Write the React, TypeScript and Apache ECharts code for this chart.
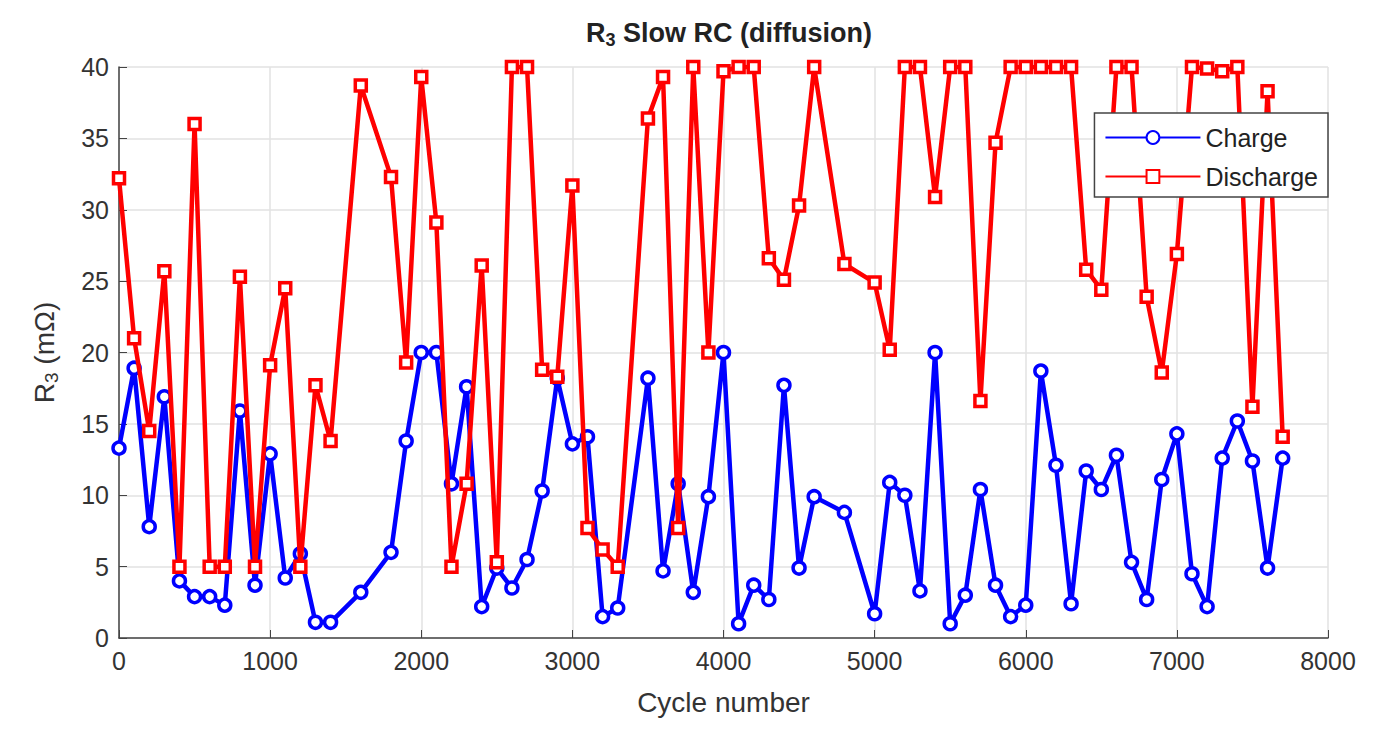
import React, { useEffect, useRef } from 'react';
import * as echarts from 'echarts';

const chargeX = [0,100,200,300,400,500,600,700,800,900,1000,1100,1200,1300,1400,1600,1800,1900,2000,2100,2200,2300,2400,2500,2600,2700,2800,2900,3000,3100,3200,3300,3500,3600,3700,3800,3900,4000,4100,4200,4300,4400,4500,4600,4800,5000,5100,5200,5300,5400,5500,5600,5700,5800,5900,6000,6100,6200,6300,6400,6500,6600,6700,6800,6900,7000,7100,7200,7300,7400,7500,7600,7700];
const chargeY = [13.3,18.9,7.8,16.9,4.0,2.9,2.9,2.3,15.9,3.7,12.9,4.2,5.9,1.1,1.1,3.2,6.0,13.8,20,20,10.8,17.6,2.2,4.9,3.5,5.5,10.3,18.2,13.6,14.1,1.5,2.1,18.2,4.7,10.8,3.2,9.9,20,1.0,3.7,2.7,17.7,4.9,9.9,8.8,1.7,10.9,10.0,3.3,20,1.0,3.0,10.4,3.7,1.5,2.3,18.7,12.1,2.4,11.7,10.4,12.8,5.3,2.7,11.1,14.3,4.5,2.2,12.6,15.2,12.4,4.9,12.6];
const dischargeY = [32.2,21,14.5,25.7,5,36,5,5,25.3,5,19.1,24.5,5,17.7,13.8,38.7,32.3,19.3,39.3,29.1,5,10.8,26.1,5.3,40,40,18.8,18.3,31.7,7.7,6.2,5,36.4,39.3,7.7,40,20,39.7,40,40,26.6,25.1,30.3,40,26.2,24.9,20.2,40,40,30.9,40,40,16.6,34.7,40,40,40,40,40,25.8,24.4,40,40,23.9,18.6,26.9,40,39.9,39.7,40,16.2,38.3,14.1];

const App = () => {
  const chartRef = useRef(null);

  useEffect(() => {
    const chart = echarts.init(chartRef.current, null, { renderer: 'svg' });
    const font = 'Liberation Sans, Arial, sans-serif';
    const axisCommon = {
      axisLine: { show: true, lineStyle: { color: '#444', width: 1.5 } },
      axisTick: { show: true, inside: true, length: 8, lineStyle: { color: '#444' } },
      axisLabel: { color: '#333', fontSize: 25, fontFamily: font, margin: 10, formatter: (v: number) => String(v) },
      splitLine: { show: true, lineStyle: { color: '#e2e2e2', width: 1.5 } },
      nameTextStyle: { color: '#333', fontSize: 28, fontFamily: font },
    };
    chart.setOption({
      animation: false,
      title: {
        text: '{b|R}{s|3}{b| Slow RC (diffusion)}',
        left: 716,
        top: 4,
        textAlign: 'center',
        textStyle: {
          rich: {
            b: { fontSize: 27, fontWeight: 'bold', color: '#222', fontFamily: font },
            s: { fontSize: 18, fontWeight: 'bold', color: '#222', fontFamily: font, verticalAlign: 'bottom', padding: [14, 0, 0, 0] },
          },
        },
      },
      grid: { left: 111, right: 37, top: 59, bottom: 101 },
      legend: {
        orient: 'vertical',
        right: 37,
        top: 105,
        backgroundColor: '#fff',
        borderColor: '#444',
        borderWidth: 1.5,
        borderRadius: 0,
        padding: [12, 10, 8, 10],
        itemGap: 14,
        itemWidth: 95,
        itemHeight: 16,
        textStyle: { fontSize: 25, color: '#222', fontFamily: font },
        data: ['Charge', 'Discharge'],
      },
      xAxis: {
        type: 'value', min: 0, max: 8000, interval: 1000,
        name: 'Cycle number', nameLocation: 'middle', nameGap: 50,
        ...axisCommon,
      },
      yAxis: {
        type: 'value', min: 0, max: 40, interval: 5,
        name: '{n|R}{s|3}{n| (mΩ)}', nameLocation: 'middle', nameGap: 58,
        ...axisCommon,
        nameTextStyle: {
          rich: {
            n: { fontSize: 28, color: '#333', fontFamily: font },
            s: { fontSize: 19, color: '#333', fontFamily: font, verticalAlign: 'bottom', padding: [14, 0, 0, 0] },
          },
        },
      },
      series: [
        {
          name: 'Charge', type: 'line',
          data: chargeX.map((x, i) => [x, chargeY[i]]),
          symbol: 'circle', symbolSize: 12,
          itemStyle: { color: '#fff', borderColor: '#0000ff', borderWidth: 3.5 },
          lineStyle: { color: '#0000ff', width: 4.5 },
          z: 2,
        },
        {
          name: 'Discharge', type: 'line',
          data: chargeX.map((x, i) => [x, dischargeY[i]]),
          symbol: 'rect', symbolSize: 11,
          itemStyle: { color: '#fff', borderColor: '#ff0000', borderWidth: 3.5 },
          lineStyle: { color: '#ff0000', width: 4.5 },
          z: 3,
        },
      ],
    });
    return () => chart.dispose();
  }, []);

  return <div ref={chartRef} style={{ width: 1357, height: 731 }} />;
};

export default App;
